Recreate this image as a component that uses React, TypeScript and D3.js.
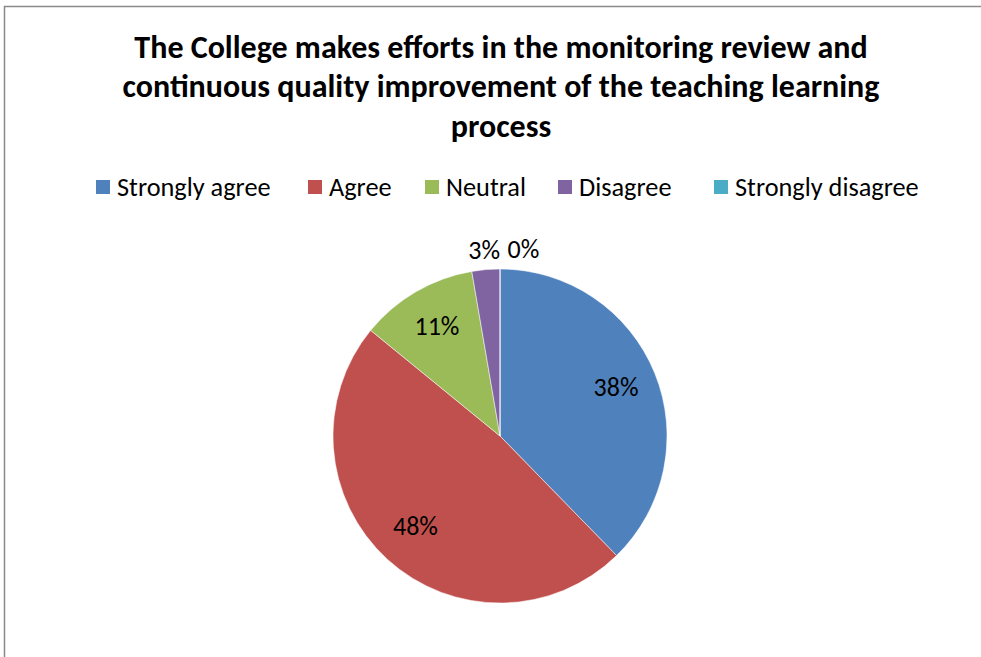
import React from "react";
import * as d3 from "d3";

const titleLines = [
  "The College makes efforts in the monitoring review and",
  "continuous quality improvement of the teaching learning",
  "process",
];
const categories = ["Strongly agree", "Agree", "Neutral", "Disagree", "Strongly disagree"];
const values = [37.7, 48.2, 11.4, 2.7, 0];
const colors = ["#4F81BD", "#C0504D", "#9BBB59", "#8064A2", "#4BACC6"];

const W = 981;
const H = 657;
const FONT = "Carlito, Calibri, Lato, 'Open Sans', sans-serif";

export default function App() {
  const cx = 500;
  const cy = 436;
  const r = 167;
  const total = d3.sum(values);
  const pct = d3.format(".0%");
  const pie = d3.pie<number>().sort(null).value((d) => d);
  const arcs = pie(values);
  const arcGen = d3.arc<d3.PieArcDatum<number>>().innerRadius(0).outerRadius(r);
  const inner = d3.arc<d3.PieArcDatum<number>>().innerRadius(r * 0.75).outerRadius(r * 0.75);
  const outer = d3.arc<d3.PieArcDatum<number>>().innerRadius(r + 20).outerRadius(r + 20);

  const labelFont = 26;
  let prevRight = -Infinity;
  const labels = arcs.map((a, i) => {
    const text = pct(values[i] / total);
    const small = values[i] / total < 0.05;
    const [x, y] = small ? outer.centroid(a) : inner.centroid(a);
    const w = text.length * labelFont * 0.6;
    let lx = x;
    if (small) {
      if (lx - w / 2 < prevRight + 8) lx = prevRight + 8 + w / 2;
      prevRight = lx + w / 2;
    }
    return { text, x: lx, y: small ? y : y - 2 };
  });

  const legendX = [96, 308, 425, 558, 714];
  const legendY = 187;

  return (
    <svg
      width={W}
      height={H}
      style={{ position: "fixed", left: 0, top: 0, background: "#fff" }}
      fontFamily={FONT}
    >
      <rect x={0} y={0} width={W} height={H} fill="#fff" />
      <rect x={4.5} y={6.5} width={W + 20} height={H + 20} fill="none" stroke="#8a8a8a" strokeWidth={1.5} />
      {titleLines.map((t, i) => (
        <text
          key={i}
          x={501}
          y={47 + i * 39.5}
          textAnchor="middle"
          dominantBaseline="central"
          fontWeight="bold"
          fontSize={32}
          fill="#000"
        >
          {t}
        </text>
      ))}
      {categories.map((c, i) => (
        <g key={c}>
          <rect x={legendX[i]} y={legendY - 7} width={14} height={14} fill={colors[i]} />
          <text x={legendX[i] + 21} y={legendY} dominantBaseline="central" fontSize={26.3} fill="#000">
            {c}
          </text>
        </g>
      ))}
      <g transform={`translate(${cx},${cy})`}>
        {arcs.map((a, i) => (
          <path key={i} d={arcGen(a) || ""} fill={colors[i]} stroke="#fff" strokeWidth={0.5} />
        ))}
      </g>
      <g transform={`translate(${cx},${cy})`}>
        {labels.map((l, i) => (
          <text
            key={i}
            x={l.x}
            y={l.y}
            textAnchor="middle"
            dominantBaseline="central"
            fontSize={labelFont}
            fill="#000"
          >
            {l.text}
          </text>
        ))}
      </g>
    </svg>
  );
}
